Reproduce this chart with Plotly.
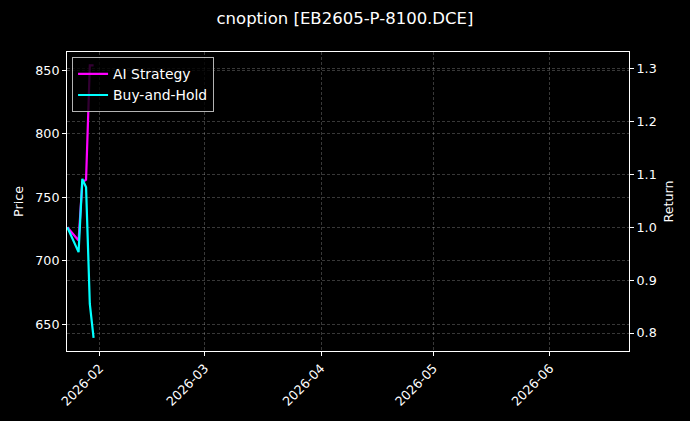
import plotly.graph_objects as go

# trading days shown (the rest of the axis is empty)
dates = ["2026-01-23 09:00", "2026-01-26 09:00", "2026-01-27 09:00",
         "2026-01-28 09:00", "2026-01-29 09:00", "2026-01-30 09:00"]

# cumulative returns
ai_strategy = [1.000, 0.975, 1.085, 1.090, 1.306, 1.306]
buy_and_hold = [1.000, 0.953, 1.0915, 1.0756, 0.855, 0.791]

price_ticks = [650, 700, 750, 800, 850]
return_ticks = [0.8, 0.9, 1.0, 1.1, 1.2, 1.3]
month_ticks = ["2026-02-01", "2026-03-01", "2026-04-01", "2026-05-01", "2026-06-01"]
month_labels = ["2026-02", "2026-03", "2026-04", "2026-05", "2026-06"]

FONT = "DejaVu Sans"
grid_col = "rgba(255,255,255,0.22)"

fig = go.Figure()

# empty trace keeps the left price axis on the figure
fig.add_trace(go.Scatter(x=[], y=[], yaxis="y", showlegend=False, hoverinfo="skip"))

fig.add_trace(go.Scatter(
    x=dates, y=ai_strategy, name="AI Strategy", mode="lines",
    line=dict(color="#ff00ff", width=2.2), yaxis="y2"
))
fig.add_trace(go.Scatter(
    x=dates, y=buy_and_hold, name="Buy-and-Hold", mode="lines",
    line=dict(color="#00ffff", width=2.2), yaxis="y2"
))

axis_common = dict(
    showline=True, linecolor="white", linewidth=1,
    ticks="outside", ticklen=4, tickwidth=1, tickcolor="white",
    showgrid=True, gridcolor=grid_col, griddash="3px,2px", gridwidth=0.7,
    zeroline=False, automargin=False,
    tickfont=dict(family=FONT, size=12.7, color="white"),
)

fig.update_layout(
    width=690, height=421,
    paper_bgcolor="black", plot_bgcolor="black",
    margin=dict(l=67, r=61, t=52, b=70, autoexpand=False),
    font=dict(family=FONT, size=12.7, color="white"),
    title=dict(
        text="cnoption [EB2605-P-8100.DCE]",
        x=0.5, xref="container", xanchor="center",
        y=1 - 18 / 421, yref="container", yanchor="middle",
        automargin=False,
        font=dict(family=FONT, size=16.5, color="white"),
    ),
    xaxis=dict(
        axis_common, type="date",
        range=["2026-01-23 07:00", "2026-06-22 02:00"],
        tickvals=month_ticks, ticktext=month_labels, tickangle=-45,
        mirror=True,
    ),
    yaxis=dict(
        axis_common, range=[629.0, 864.4], tickvals=price_ticks,
        title=dict(text="Price", standoff=8, font=dict(family=FONT, size=12.7, color="white")),
    ),
    yaxis2=dict(
        axis_common, overlaying="y", side="right",
        range=[0.766, 1.3314], tickvals=return_ticks,
        tickformat=".1f",
        title=dict(text="Return", standoff=8, font=dict(family=FONT, size=12.7, color="white")),
    ),
    legend=dict(
        x=0.009, y=0.982, xanchor="left", yanchor="top",
        bgcolor="rgba(0,0,0,0.8)", bordercolor="rgba(210,210,210,0.85)", borderwidth=1,
        font=dict(family=FONT, size=13.9, color="white"),
        itemwidth=30,
    ),
    showlegend=True,
)

# browser default body margin would shift the figure
fig.write_html(
    "out.html",
    config={"displayModeBar": False},
    post_script="document.body.style.margin='0';document.body.style.background='black';",
)
